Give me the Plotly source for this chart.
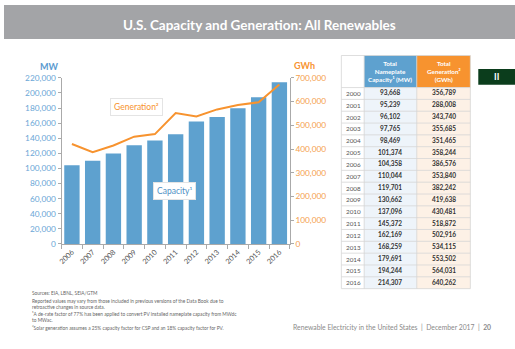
import plotly.graph_objects as go

years = ["2006", "2007", "2008", "2009", "2010", "2011", "2012", "2013", "2014", "2015", "2016"]
capacity_mw = [104358, 110044, 119701, 130662, 137096, 145372, 162169, 168259, 179691, 194244, 214307]
# generation line as drawn in the chart (GWh)
generation_line = [421000, 387000, 415000, 452000, 463000, 552000, 537000, 567000, 586000, 597000, 672000]

table_years = [str(y) for y in range(2000, 2017)]
table_capacity = ["93,668", "95,239", "96,102", "97,765", "98,469", "101,374", "104,358", "110,044",
                  "119,701", "130,662", "137,096", "145,372", "162,169", "168,259", "179,691",
                  "194,244", "214,307"]
table_generation = ["356,789", "288,008", "343,740", "355,685", "351,465", "358,244", "386,576",
                    "353,840", "382,242", "419,638", "430,481", "518,872", "502,916", "534,115",
                    "553,502", "564,031", "640,262"]
table_headers = ["", "<b>Total<br>Nameplate<br>Capacity¹ (MW)</b>", "<b>Total<br>Generation²<br>(GWh)</b>"]

W, H = 515, 349
FONT = "Lato"
BLUE = "#5ea1cf"
ORANGE = "#f7932f"

def py(p):  # pixel y -> paper
    return 1 - p / H

def px(p):
    return p / W

fig = go.Figure()

fig.add_trace(go.Bar(x=years, y=capacity_mw, marker=dict(color=BLUE, line=dict(width=0)),
                     yaxis="y", showlegend=False, hoverinfo="skip"))
fig.add_trace(go.Scatter(x=years, y=generation_line, mode="lines",
                         line=dict(color=ORANGE, width=2), yaxis="y2", showlegend=False,
                         hoverinfo="skip"))

shapes = [
    dict(type="rect", xref="paper", yref="paper", x0=0, x1=1, y0=py(35), y1=1,
         fillcolor="#a3a4a7", line=dict(width=0), layer="below"),
    dict(type="rect", xref="paper", yref="paper", x0=px(478), x1=1, y0=py(82), y1=py(66),
         fillcolor="#0b3d1c", line=dict(width=0)),
]
ann = []

# ---- table drawn with shapes + annotations ----
col_edges = [340, 363, 416, 470]
head_top, head_bot, tab_bot = 52, 85, 292
n = len(table_years)
rh = (tab_bot - head_bot) / n
head_fill = ["white", BLUE, ORANGE]
body_fill = ["white", "#eef4fa", "#fdf1e6"]
GRID = "#d6d6d6"
for c in range(3):
    shapes.append(dict(type="rect", xref="paper", yref="paper", x0=px(col_edges[c]), x1=px(col_edges[c + 1]),
                       y0=py(head_bot), y1=py(head_top), fillcolor=head_fill[c], line=dict(width=0)))
    shapes.append(dict(type="rect", xref="paper", yref="paper", x0=px(col_edges[c]), x1=px(col_edges[c + 1]),
                       y0=py(tab_bot), y1=py(head_bot), fillcolor=body_fill[c], line=dict(width=0)))
    ann.append(dict(text=table_headers[c], x=px((col_edges[c] + col_edges[c + 1]) / 2),
                    y=py((head_top + head_bot) / 2),
                    font=dict(family=FONT, size=6.3, color="white")))
for i in range(n + 1):
    yy = head_bot + i * rh
    shapes.append(dict(type="line", xref="paper", yref="paper", x0=px(col_edges[0]), x1=px(col_edges[-1]),
                       y0=py(yy), y1=py(yy), line=dict(color=GRID, width=0.8)))
shapes.append(dict(type="line", xref="paper", yref="paper", x0=px(col_edges[0]), x1=px(col_edges[-1]),
                   y0=py(head_top), y1=py(head_top), line=dict(color=GRID, width=0.8)))
for e in col_edges:
    shapes.append(dict(type="line", xref="paper", yref="paper", x0=px(e), x1=px(e),
                       y0=py(tab_bot), y1=py(head_top), line=dict(color=GRID, width=0.8)))
for i in range(n):
    yc = py(head_bot + (i + 0.5) * rh)
    ann.append(dict(text=table_years[i], x=px(col_edges[0] + 3), y=yc, xanchor="left",
                    font=dict(family=FONT, size=6.3, color="#555555")))
    ann.append(dict(text="<b>" + table_capacity[i] + "</b>", x=px((col_edges[1] + col_edges[2]) / 2), y=yc,
                    font=dict(family=FONT, size=6.5, color="#333333")))
    ann.append(dict(text="<b>" + table_generation[i] + "</b>", x=px((col_edges[2] + col_edges[3]) / 2), y=yc,
                    font=dict(family=FONT, size=6.5, color="#333333")))

fig.update_layout(
    width=W, height=H, autosize=False,
    margin=dict(l=0, r=0, t=0, b=0),
    paper_bgcolor="white", plot_bgcolor="white",
    bargap=0.26,
    xaxis=dict(domain=[px(58), px(288)], type="category", range=[-0.5, 10.5],
               showline=True, linecolor="#aaaaaa", linewidth=1,
               ticks="outside", tickson="boundaries", ticklen=4, tickcolor="#aaaaaa",
               tickangle=-45, tickfont=dict(family=FONT, size=7.3, color="#555555"),
               showgrid=False, zeroline=False, fixedrange=True),
    yaxis=dict(domain=[py(246), py(75)], range=[0, 220000], dtick=20000,
               tickformat=",d", showline=True, linecolor="#aaaaaa", linewidth=1,
               ticks="outside", ticklen=3, tickcolor="#aaaaaa",
               tickfont=dict(family=FONT, size=8.3, color="#6aa6d6"),
               showgrid=False, zeroline=False),
    yaxis2=dict(domain=[py(246), py(75)], range=[0, 700000], dtick=100000, overlaying="y",
                side="right", anchor="x", tickformat=",d", showline=True,
                linecolor="#aaaaaa", linewidth=1, ticks="outside", ticklen=3,
                tickcolor="#aaaaaa", tickfont=dict(family=FONT, size=8.3, color="#f5a04e"),
                showgrid=False, zeroline=False),
    shapes=shapes,
)

ann += [
    dict(text="<b>U.S. Capacity and Generation: All Renewables</b>", x=px(257), y=py(21),
         font=dict(family=FONT, size=13.5, color="white")),
    dict(text="<b>II</b>", x=px(496), y=py(74), font=dict(family=FONT, size=9, color="white")),
    dict(text="<b>MW</b>", x=px(46), y=py(63), font=dict(family=FONT, size=9, color="#5b9bd0")),
    dict(text="<b>GWh</b>", x=px(303), y=py(62), font=dict(family=FONT, size=9, color=ORANGE)),
    dict(text="Generation²", x=px(134), y=py(105), font=dict(family=FONT, size=8.5, color=ORANGE),
         bgcolor="white", bordercolor="#e4e4e4", borderwidth=1, borderpad=3),
    dict(text="Capacity¹", x=px(172), y=py(191), font=dict(family=FONT, size=8.5, color="#4f8fc4"),
         bgcolor="white", bordercolor="#e4e4e4", borderwidth=1, borderpad=3),
    dict(text="Renewable Electricity in the United States  |  December 2017  |  <b>20</b>",
         x=px(493), y=py(332), xanchor="right", font=dict(family=FONT, size=6.8, color="#8a8a8a")),
]
foot_lines = [
    ("Sources: EIA, LBNL, SEIA/GTM", 296),
    ("Reported values may vary from those included in previous versions of the Data Book due to", 304.5),
    ("retroactive changes in source data.", 310.5),
    ("¹A de-rate factor of 77% has been applied to convert PV installed nameplate capacity from MWdc", 318.5),
    ("to MWac.", 324.5),
    ("²Solar generation assumes a 25% capacity factor for CSP and an 18% capacity factor for PV.", 332.5),
]
for t, yy in foot_lines:
    ann.append(dict(text=t, x=px(26), y=py(yy), xanchor="left",
                    font=dict(family=FONT, size=4.8, color="#666666")))

for a in ann:
    a.setdefault("xref", "paper")
    a.setdefault("yref", "paper")
    a.setdefault("showarrow", False)
    a.setdefault("xanchor", "center")
    a.setdefault("yanchor", "middle")
fig.update_layout(annotations=ann)

fig.write_html("out.html")
